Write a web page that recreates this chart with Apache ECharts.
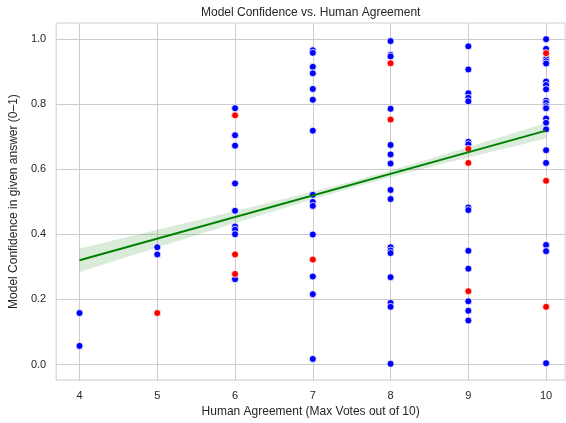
<!DOCTYPE html>
<html><head><meta charset="utf-8">
<script src="https://cdn.jsdelivr.net/npm/echarts@6/dist/echarts.min.js"></script>
<style>html,body{margin:0;padding:0;background:#fff}#c{width:566px;height:423px}</style>
</head><body><div id="c"></div>
<script>
// Blue points: [votes, confidence]
const blueVotes = [4,4, 5,5, 6,6,6,6,6,6,6,6,6,
  7,7,7,7,7,7,7,7,7,7,7,7,7,7,
  8,8,8,8,8,8,8,8,8,8,8,8,8,8,8,8,
  9,9,9,9,9,9,9,9,9,9,9,9,9,9,
  10,10,10,10,10,10,10,10,10,10,10,10,10,10,10,10,10,10,10,10];
const blueConf = [0.158,0.057, 0.36,0.338,
  0.787,0.704,0.672,0.556,0.472,0.424,0.414,0.40,0.262,
  0.965,0.957,0.914,0.894,0.846,0.813,0.718,0.521,0.499,0.487,0.399,0.27,0.216,0.017,
  0.993,0.951,0.946,0.785,0.674,0.645,0.617,0.536,0.508,0.36,0.35,0.342,0.268,0.189,0.177,0.002,
  0.977,0.906,0.833,0.819,0.808,0.684,0.676,0.482,0.474,0.349,0.294,0.194,0.165,0.135,
  0.999,0.969,0.939,0.931,0.924,0.869,0.858,0.845,0.81,0.803,0.793,0.787,0.755,0.742,0.722,0.658,0.619,0.367,0.348,0.004];
// Red points
const redVotes = [5, 6,6,6, 7, 8,8, 9,9,9, 10,10,10];
const redConf = [0.158, 0.765,0.338,0.278, 0.322, 0.925,0.752, 0.662,0.619,0.225, 0.956,0.564,0.177];
const xTicks = [4,5,6,7,8,9,10];
const yTicks = [0.0,0.2,0.4,0.6,0.8,1.0];
// Regression line (value at x=4 and x=10)
const fitX = [4, 10];
const fitY = [0.320, 0.718];
// 95% CI half-width read at x = 4, 7, 10
const ciX = [4, 7, 10];
const ciHalf = [0.036, 0.012, 0.024];

// Band shape: h(x)^2 = A + Bx + Cx^2 through the three read widths
function solveBand(){
  const [x1,x2,x3] = ciX, [h1,h2,h3] = ciHalf.map(v=>v*v);
  const det = (x1*x1*(x2-x3) - x2*x2*(x1-x3) + x3*x3*(x1-x2));
  const C = (h1*(x2-x3) - h2*(x1-x3) + h3*(x1-x2))/det;
  const B = (x1*x1*(h2-h3) - x2*x2*(h1-h3) + x3*x3*(h1-h2))/det;
  const A = h1 - B*x1 - C*x1*x1;
  return x => Math.sqrt(Math.max(0, A + B*x + C*x*x));
}
const halfW = solveBand();
const slope = (fitY[1]-fitY[0])/(fitX[1]-fitX[0]);
const band = [];
for (let k=0;k<=60;k++){
  const x = fitX[0] + (fitX[1]-fitX[0])*k/60;
  const yh = fitY[0] + slope*(x-fitX[0]);
  band.push([x, yh-halfW(x), yh+halfW(x)]);
}

const font = 'Liberation Sans, Arial, sans-serif';
const chart = echarts.init(document.getElementById('c'), null, {renderer:'canvas'});
chart.setOption({
  animation:false,
  backgroundColor:'#fff',
  title:{text:'Model Confidence vs. Human Agreement', left:196, top:2,
    textStyle:{fontFamily:font, fontSize:12, fontWeight:'normal', color:'#262626'}},
  grid:{left:53, right:1, top:23, bottom:39, show:true, borderColor:'#cccccc', borderWidth:1, containLabel:false},
  xAxis:{type:'value', min:3.70, max:10.243,
    name:'Human Agreement (Max Votes out of 10)', nameLocation:'middle', nameGap:23,
    nameTextStyle:{fontFamily:font, fontSize:12, color:'#262626'},
    axisLine:{show:false}, axisTick:{show:false, customValues:xTicks},
    axisLabel:{customValues:xTicks, fontFamily:font, fontSize:11, color:'#262626', margin:10},
    splitLine:{show:true, lineStyle:{color:'#cccccc', width:1}}},
  yAxis:{type:'value', min:-0.048, max:1.0486,
    name:'Model Confidence in given answer (0\u20131)', nameLocation:'middle', nameGap:30,
    nameTextStyle:{fontFamily:font, fontSize:12, color:'#262626'},
    axisLine:{show:false}, axisTick:{show:false, customValues:yTicks},
    axisLabel:{customValues:yTicks, fontFamily:font, fontSize:11, color:'#262626', margin:10,
      formatter:v=>Number(v).toFixed(1)},
    splitLine:{show:true, lineStyle:{color:'#cccccc', width:1}}},
  series:[
    {type:'custom', silent:true, z:1, data:[0],
      renderItem:(params, api)=>{
        const pts = band.map(p=>api.coord([p[0],p[2]])).concat(band.slice().reverse().map(p=>api.coord([p[0],p[1]])));
        return {type:'polygon', shape:{points:pts}, style:{fill:'rgba(0,128,0,0.15)', stroke:null}};
      }},
    {type:'scatter', data:blueVotes.map((v,i)=>[v,blueConf[i]]), symbolSize:7,
      itemStyle:{color:'#0000ff', borderColor:'#ffffff', borderWidth:0.8, opacity:1}, z:3},
    {type:'scatter', data:redVotes.map((v,i)=>[v,redConf[i]]), symbolSize:7,
      itemStyle:{color:'#ff0000', borderColor:'#ffffff', borderWidth:0.8, opacity:1}, z:4},
    {type:'line', data:fitX.map((x,i)=>[x,fitY[i]]), symbol:'none', lineStyle:{color:'#008000', width:2}, z:5}
  ]
});
</script></body></html>
